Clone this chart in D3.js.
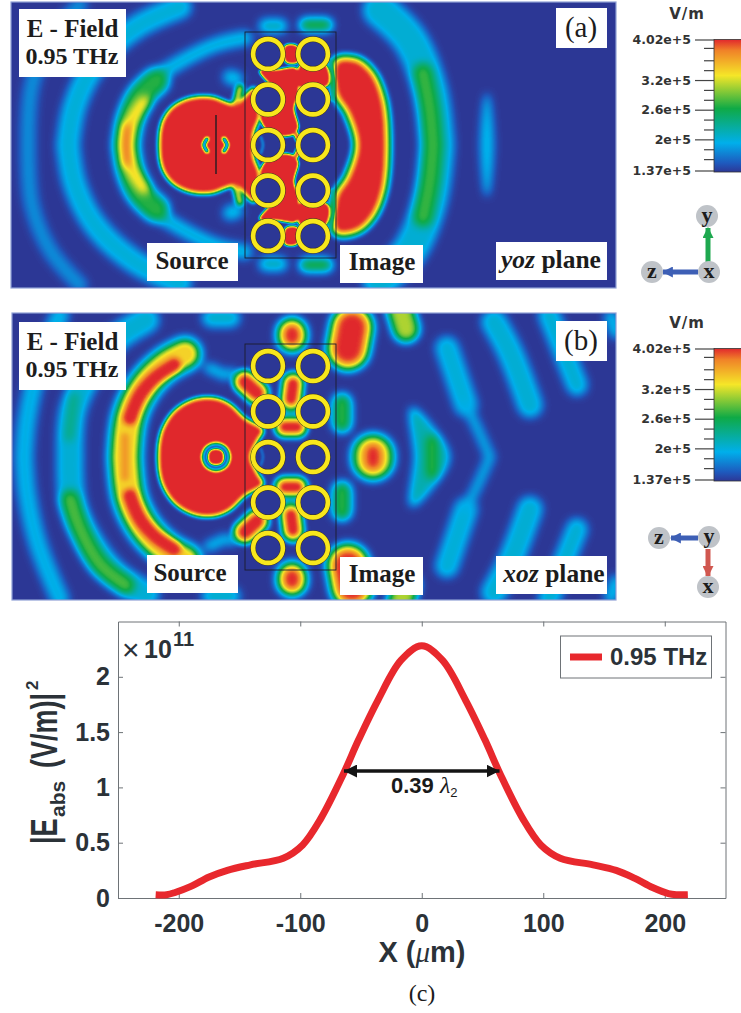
<!DOCTYPE html>
<html>
<head>
<meta charset="utf-8">
<title>E-field 0.95 THz</title>
<script src="https://d3js.org/d3.v7.min.js"></script>
<style>
body { margin: 0; background: #fff; }
svg { display: block; }
.serif { font-family: 'Liberation Serif', serif; }
.sans { font-family: 'Liberation Sans', sans-serif; }
</style>
</head>
<body>
<svg id="fig" width="741" height="1013"></svg>
<script>
// colour bar
var cbTop = 4.02e5, cbBottom = 1.37e5;
var cbStops = [1.37e5, 1.55e5, 1.95e5, 2.64e5, 3.3e5, 3.8e5, 4.02e5];
var cbColors = ["#2d3796", "#1e5abe", "#00afeb", "#0faa46", "#f5e628", "#f08228", "#e1282d"];
var cbMajor = [4.02e5, 3.2e5, 2.6e5, 2e5, 1.37e5];
var cbMajorLabels = ["4.02e+5", "3.2e+5", "2.6e+5", "2e+5", "1.37e+5"];
var cbMinor = [3.85e5, 3.6e5, 3.4e5, 3e5, 2.8e5, 2.4e5, 2.2e5, 1.8e5, 1.6e5];

// rods, relative to source
var rodCols = [52, 97];
var rodRows = [-91, -45.5, 0, 45.5, 91];

// field lobes panel (a): val in V/m, w width, m = also mirrored about the axis
var imageOutlineA = [[121,-83],[140,-84],[155,-72],[166,-46],[170,0],[166,46],[155,72],[140,85],[121,86],[121,52],[133,32],[142,0],[133,-32],[121,-52]];
var fieldAWide = [
  {val: 1.8e5, w: 15, m: 1, pts: [[-136,-140],[-166,-105],[-184,-60],[-188,0]]},
  {val: 2.02e5, w: 23, m: 1, pts: [[-36,-138],[-81,-117],[-121,-80],[-141,-40],[-148,0]]},
  {val: 2.05e5, w: 14, m: 1, pts: [[29,-107],[-1,-100],[-36,-83],[-66,-63],[-86,-40]]},
  {val: 2.7e5, w: 26, m: 1, pts: [[-60,-64],[-76,-48],[-86,-25],[-90,0]]},
  {val: 3.4e5, w: 14, m: 1, pts: [[-72,-42],[-85,-22],[-90,0]]},
  {val: 4.1e5, w: 8, m: 0, pts: [[-90,-18],[-90,18]]},
  {val: 2.05e5, w: 34, m: 1, pts: [[164,-135],[194,-105],[214,-55],[221,0]]},
  {val: 2.75e5, w: 20, m: 1, pts: [[207,-72],[214,-35],[217,0]]},
  {val: 2.05e5, w: 3, closed: 1, pts: [[271,-50],[276,0],[271,50],[266,0]]},
  {val: 2.15e5, w: 14, m: 1, pts: [[50,-119],[64,-119]]},
  {val: 2.7e5, w: 13, m: 1, pts: [[90,-120],[110,-120]]},
  {val: 2.05e5, w: 14, m: 1, pts: [[14,-68],[20,-66]]}
];
var fieldAMid = [
  {val: 2.75e5, w: 12, closed: 1, pts: imageOutlineA},
  {val: 5e5, w: 1, closed: 1, pts: imageOutlineA},
  {val: 3.4e5, w: 7, m: 1, pts: [[20,-40],[24,-57]]}
];
var fieldASharp = [
  {val: 5e5, w: 1, closed: 1, pts: [[-57,0],[-54,-23],[-44,-38],[-26,-47],[-4,-48],[10,-43],[18,-41],[26,-46],[31,-52],[38,-57],[44,-30],[38,-12],[38,0],[38,12],[44,30],[38,57],[31,52],[26,46],[18,41],[10,43],[-4,48],[-26,47],[-44,38],[-54,23]]}
];
var fieldAFine = [
  {val: 2.3e5, w: 3, m: 1, pts: [[114,-85],[118,-62],[116,-45]]},
  {val: 5e5, w: 1, m: 1, closed: 1, pts: [[69,-99],[81,-99],[82,-83],[70,-83]]},
  {val: 5e5, w: 1, m: 1, closed: 1, pts: [[84,-80],[109,-81],[112,-60],[84,-58]]},
  {val: 5e5, w: 1, m: 1, closed: 1, pts: [[44,-74],[60,-75],[81,-76],[82,-50],[78,-37],[82,-17],[76,-10],[54,-12],[44,-30],[60,-50]]},
  {val: 3.9e5, w: 5, m: 1, pts: [[80,-11],[84,-2]]}
];
var fieldATop = [
  {val: 1.37e5, w: 3, m: 0, pts: [[-9,-6],[-12,0],[-9,6]]},
  {val: 1.37e5, w: 3, m: 0, pts: [[8,-6],[11,0],[8,6]]},
  {val: 1.9e5, w: 2, m: 0, pts: [[45,-8],[47,0],[45,8]]}
];

// field lobes panel (b)
var fieldBWide = [
  {val: 1.98e5, w: 18, m: 1, pts: [[-156,-142],[-178,-87],[-189,-37],[-192,0]]},
  {val: 2.05e5, w: 26, m: 1, pts: [[-70,-137],[-101,-117],[-126,-85],[-143,-47],[-146,0]]},
  {val: 2.4e5, w: 10, m: 0, pts: [[-142,-60],[-147,-20]]},
  {val: 2.8e5, w: 20, m: 0, pts: [[-146,43],[-136,73],[-116,108],[-91,128]]},
  {val: 2.7e5, w: 34, m: 1, pts: [[-31,-103],[-51,-92],[-71,-72],[-86,-42],[-91,0]]},
  {val: 2.05e5, w: 10, m: 1, pts: [[-7,-89],[9,-82]]},
  {val: 2.05e5, w: 9, m: 1, pts: [[16,-84],[24,-78]]},
  {val: 2.05e5, w: 25, m: 1, pts: [[278,-135],[294,-105],[314,-52]]},
  {val: 2.05e5, w: 21, m: 1, pts: [[333,-142],[361,-72]]},
  {val: 2.0e5, w: 13, m: 1, pts: [[395,-140],[400,-125]]},
  {val: 2.08e5, w: 18, m: 1, pts: [[-5,-139],[15,-139]]},
  {val: 2.02e5, w: 23, m: 1, pts: [[231,-109],[250,-52]]},
  {val: 1.95e5, w: 10, m: 1, pts: [[250,-52],[263,-25],[274,0]]},
  {val: 3.1e5, w: 26, m: 1, pts: [[184,-148],[190,-128]]},
  {val: 2.9e5, w: 44, m: 1, pts: [[136,-130],[132,-108]]},
  {val: 5e5, w: 34, m: 1, pts: [[136,-130],[132,-108]]},
  {val: 2.8e5, w: 31, m: 1, pts: [[76,-124],[76,-120]]},
  {val: 5e5, w: 22, m: 1, pts: [[76,-124],[76,-120]]},
  {val: 2.6e5, w: 44, m: 0, pts: [[157,-2],[157,2]]},
  {val: 3.4e5, w: 32, m: 0, pts: [[157,-3],[157,3]]},
  {val: 4.6e5, w: 18, m: 0, pts: [[157,-5],[157,5]]},
  {val: 2.7e5, w: 19, m: 1, pts: [[126,-54],[126,-34]]},
  {val: 2.2e5, w: 3, closed: 1, pts: [[196,-48],[215,-30],[232,0],[215,30],[196,48],[200,0]]},
  {val: 2.75e5, w: 12, m: 0, pts: [[216,-16],[216,16]]}
];
var fieldBMid = [
  {val: 2.7e5, w: 24, m: 1, pts: [[77,-74],[75,-56]]},
  {val: 2.7e5, w: 23, m: 1, pts: [[69,-30],[81,-30]]},
  {val: 2.7e5, w: 26, m: 1, pts: [[29,-75],[41,-64]]},
  {val: 3.4e5, w: 22, m: 1, pts: [[-31,-103],[-51,-92],[-71,-72],[-86,-42],[-91,0]]},
  {val: 3.7e5, w: 8, m: 0, pts: [[-91,-20],[-91,20]]},
  {val: 5e5, w: 16, m: 1, pts: [[-42,-92],[-61,-79],[-76,-62],[-86,-39]]},
  {val: 5e5, w: 15, m: 1, pts: [[77,-73],[75,-58]]},
  {val: 5e5, w: 14, m: 1, pts: [[69,-30],[81,-30]]},
  {val: 5e5, w: 17, m: 1, pts: [[29,-75],[41,-64]]}
];
var fieldBSharp = [
  {val: 5e5, w: 1, closed: 1, pts: [[-58,0],[-54,-27],[-41,-47],[-21,-58],[-1,-59],[14,-53],[29,-39],[47,-27],[41,-15],[35,0],[41,15],[47,27],[29,39],[14,53],[-1,59],[-21,58],[-41,47],[-54,27]]}
];
var fieldBFine = [];
var fieldBTop = [
  {val: 2.2e5, w: 1, closed: 1, pts: [[0,-14],[10,-10],[14,0],[10,10],[0,14],[-10,10],[-14,0],[-10,-10]]},
  {val: 1.37e5, w: 1, closed: 1, pts: [[0,-11],[8,-8],[11,0],[8,8],[0,11],[-8,8],[-11,0],[-8,-8]]},
  {val: 5e5, w: 1, closed: 1, pts: [[0,-8],[6,-6],[8,0],[6,6],[0,8],[-6,6],[-8,0],[-6,-6]]},
  {val: 1.75e5, w: 2, m: 0, pts: [[45,-8],[47,0],[45,8]]}
];

// line plot (c)
var curveX = [-219,-210,-203,-190,-175,-160,-141,-114,-98,-83,-65,-52,-36,-17,0,17,36,52,65,83,98,114,141,160,175,190,203,210,219];
var curveY = [0.03,0.03,0.05,0.105,0.19,0.25,0.30,0.36,0.48,0.72,1.11,1.43,1.79,2.15,2.28,2.15,1.79,1.43,1.11,0.72,0.48,0.36,0.30,0.25,0.18,0.095,0.04,0.03,0.03];
var xTicks = [-200,-100,0,100,200];
var yTicks = [0,0.5,1,1.5,2];
var xTickLabels = ["-200","-100","0","100","200"];
var yTickLabels = ["0","0.5","1","1.5","2"];
var fwhmX = [-64, 64];
var fwhmY = 1.148;

var svg = d3.select("#fig");
var defs = svg.append("defs");

// value to grey and grey to colour
var grey = d3.scaleLinear().domain([cbBottom, cbTop]).range([0, 255]).clamp(true);
var jet = d3.scaleLinear().domain(cbStops).range(cbColors).interpolate(d3.interpolateRgb);

function addBlur(id, s){
  defs.append("filter").attr("id", id)
    .attr("filterUnits", "userSpaceOnUse").attr("x", -20).attr("y", -20).attr("width", 800).attr("height", 700)
    .attr("color-interpolation-filters", "sRGB")
    .append("feGaussianBlur").attr("stdDeviation", s);
}
addBlur("b4", 4);
addBlur("b3", 2.8);
addBlur("b2", 1.9);
addBlur("b15", 1.2);
addBlur("b1", 0.8);

var table = d3.range(0, 65).map(function(i){
  return d3.rgb(jet(cbBottom + (cbTop - cbBottom) * i / 64));
});
var jf = defs.append("filter").attr("id", "jet")
  .attr("filterUnits", "userSpaceOnUse").attr("x", -20).attr("y", -20).attr("width", 800).attr("height", 700)
  .attr("color-interpolation-filters", "sRGB")
  .append("feComponentTransfer");
[["feFuncR","r"],["feFuncG","g"],["feFuncB","b"]].forEach(function(k){
  jf.append(k[0]).attr("type", "table")
    .attr("tableValues", table.map(function(c){ return (c[k[1]]/255).toFixed(3); }).join(" "));
});

function drawLobes(g, lobes, xs, ys){
  var open = d3.line().x(function(d){return xs(d[0]);}).y(function(d){return ys(d[1]);}).curve(d3.curveCatmullRom);
  var shut = d3.line().x(function(d){return xs(d[0]);}).y(function(d){return ys(d[1]);}).curve(d3.curveCatmullRomClosed);
  lobes.forEach(function(l){
    var g1 = Math.round(grey(l.val));
    var col = "rgb(" + g1 + "," + g1 + "," + g1 + ")";
    var sets = [l.pts];
    if (l.m) sets.push(l.pts.map(function(p){ return [p[0], -p[1]]; }));
    sets.forEach(function(pts){
      g.append("path")
        .attr("d", (l.closed ? shut : open)(pts))
        .attr("fill", l.closed ? col : "none")
        .attr("stroke", col)
        .attr("stroke-width", l.w)
        .attr("stroke-linecap", "round")
        .attr("stroke-linejoin", "round");
    });
  });
}

function drawPanel(id, box, x0, wide, mid, sharp, fine, top){
  var xs = d3.scaleLinear().domain([box.x0 - x0, box.x1 - x0]).range([box.x0, box.x1]);
  var ys = d3.scaleLinear().domain([box.y0 - box.cy, box.y1 - box.cy]).range([box.y0, box.y1]);
  defs.append("clipPath").attr("id", "clip" + id).append("rect")
    .attr("x", box.x0).attr("y", box.y0).attr("width", box.x1 - box.x0).attr("height", box.y1 - box.y0);
  var outer = svg.append("g").attr("clip-path", "url(#clip" + id + ")");
  var g = outer.append("g").attr("filter", "url(#jet)");
  g.append("rect").attr("x", -20).attr("y", -20).attr("width", 800).attr("height", 700).attr("fill", "#000");
  drawLobes(g.append("g").attr("filter", "url(#b4)"), wide, xs, ys);
  drawLobes(g.append("g").attr("filter", "url(#b3)"), mid, xs, ys);
  drawLobes(g.append("g").attr("filter", "url(#b2)"), sharp, xs, ys);
  drawLobes(g.append("g").attr("filter", "url(#b15)"), fine, xs, ys);
  var gt = g.append("g").attr("filter", "url(#b1)");
  rodCols.forEach(function(c){
    rodRows.forEach(function(r){
      gt.append("circle").attr("cx", xs(c)).attr("cy", ys(r)).attr("r", 15).attr("fill", "#000");
    });
  });
  drawLobes(gt, top, xs, ys);

  // outline of the lattice and rods
  svg.append("rect").attr("x", box.x0).attr("y", box.y0).attr("width", box.x1 - box.x0).attr("height", box.y1 - box.y0)
    .attr("fill", "none").attr("stroke", "#8fa0d6").attr("stroke-width", 1.2);
  svg.append("rect").attr("x", xs(29)).attr("y", ys(-113)).attr("width", xs(120) - xs(29)).attr("height", ys(113) - ys(-113))
    .attr("fill", "none").attr("stroke", "#1c1c2c").attr("stroke-width", 0.9);
  rodCols.forEach(function(c){
    rodRows.forEach(function(r){
      svg.append("circle").attr("cx", xs(c)).attr("cy", ys(r)).attr("r", 14.9)
        .attr("fill", "none").attr("stroke", "#3a3320").attr("stroke-width", 5.6);
      svg.append("circle").attr("cx", xs(c)).attr("cy", ys(r)).attr("r", 14.9)
        .attr("fill", "none").attr("stroke", "#f8e71c").attr("stroke-width", 4.6);
    });
  });
  return {xs: xs, ys: ys};
}

var panelA = {x0: 11, x1: 616, y0: 2, y1: 288, cy: 145};
var panelB = {x0: 12, x1: 616, y0: 313, y1: 600, cy: 457};
var pa = drawPanel("a", panelA, 216, fieldAWide, fieldAMid, fieldASharp, fieldAFine, fieldATop);
var pb = drawPanel("b", panelB, 216, fieldBWide, fieldBMid, fieldBSharp, fieldBFine, fieldBTop);

// source bar in (a)
svg.append("line").attr("x1", pa.xs(0)).attr("x2", pa.xs(0)).attr("y1", pa.ys(-30)).attr("y2", pa.ys(29))
  .attr("stroke", "#5a1f25").attr("stroke-width", 2);

function whiteBox(x, y, w, h){
  svg.append("rect").attr("x", x).attr("y", y).attr("width", w).attr("height", h).attr("fill", "#fff");
}
function label(x, y, txt, size, weight, anchor){
  return svg.append("text").attr("class", "serif").attr("x", x).attr("y", y)
    .attr("font-size", size).attr("font-weight", weight || "bold").attr("fill", "#1c1c1c")
    .attr("text-anchor", anchor || "middle").text(txt);
}
function boxes(dy, dyS, dyI, dyP, letter, planeIt, xS, xP){
  whiteBox(19, 9 + dy, 107, 68);
  label(72.5, 37 + dy, "E - Field", 25);
  label(72, 64 + dy, "0.95 THz", 24);
  whiteBox(556, 8 + dy, 51, 40);
  label(581, 37 + dy, letter, 29, "normal");
  whiteBox(147, 243 + dyS, 91, 38);
  label(xS, 269 + dyS, "Source", 25);
  whiteBox(340, 245 + dyI, 83, 38);
  label(382, 270 + dyI, "Image", 25);
  whiteBox(496, 242 + dyP, 111, 38);
  var t = label(xP, 268 + dyP, "", 25.5);
  t.append("tspan").attr("font-style", "italic").text(planeIt);
  t.append("tspan").text(" plane");
}
boxes(0, 0, 0, 0, "(a)", "yoz", 192, 551);
boxes(313, 312, 312, 314, "(b)", "xoz", 190, 554);

// colour bars
var grad = defs.append("linearGradient").attr("id", "cbGrad").attr("x1", 0).attr("x2", 0).attr("y1", 1).attr("y2", 0);
cbStops.forEach(function(v, i){
  grad.append("stop").attr("offset", (v - cbBottom) / (cbTop - cbBottom)).attr("stop-color", cbColors[i]);
});
function colorBar(dy){
  var g = svg.append("g");
  var s = d3.scaleLinear().domain([cbBottom, cbTop]).range([170.5 + dy, 39.5 + dy]);
  g.append("rect").attr("x", 714).attr("y", s(cbTop)).attr("width", 30).attr("height", s(cbBottom) - s(cbTop) + 1.5)
    .attr("fill", "url(#cbGrad)").attr("stroke", "#333").attr("stroke-width", 0.8);
  var major = d3.axisLeft(s).tickValues(cbMajor).tickSize(19)
    .tickFormat(function(d, i){ return cbMajorLabels[i]; });
  var mg = g.append("g").attr("transform", "translate(714,0)").call(major);
  mg.select(".domain").remove();
  mg.selectAll("line").attr("stroke", "#444").attr("stroke-width", 1.2);
  mg.selectAll("text").attr("font-family", "'DejaVu Sans', sans-serif").attr("font-weight", "bold")
    .attr("font-size", 12.5).attr("fill", "#333").attr("x", -23);
  var minor = d3.axisLeft(s).tickValues(cbMinor).tickSize(10).tickFormat("");
  var ng = g.append("g").attr("transform", "translate(714,0)").call(minor);
  ng.select(".domain").remove();
  ng.selectAll("line").attr("stroke", "#444").attr("stroke-width", 1.2);
  g.append("text").attr("x", 687).attr("y", 19 + dy).attr("text-anchor", "middle")
    .attr("font-family", "'DejaVu Sans', sans-serif").attr("font-weight", "bold").attr("font-size", 15)
    .attr("letter-spacing", 1).attr("fill", "#333").text("V/m");
}
colorBar(0);
colorBar(309);

// axis triads
["#1ea84f", "#3d5fb5", "#d0574f"].forEach(function(c, i){
  var m = defs.append("marker").attr("id", "tri" + i).attr("viewBox", "0 0 10 10").attr("refX", 9).attr("refY", 5)
    .attr("markerWidth", 11).attr("markerHeight", 11).attr("markerUnits", "userSpaceOnUse").attr("orient", "auto");
  m.append("path").attr("d", "M0,0L10,5L0,10Z").attr("fill", c);
});
function triad(arrows, balls){
  arrows.forEach(function(a){
    svg.append("line").attr("x1", a[0]).attr("y1", a[1]).attr("x2", a[2]).attr("y2", a[3])
      .attr("stroke", ["#1ea84f", "#3d5fb5", "#d0574f"][a[4]]).attr("stroke-width", 5)
      .attr("marker-end", "url(#tri" + a[4] + ")");
  });
  balls.forEach(function(b){
    svg.append("circle").attr("cx", b[0]).attr("cy", b[1]).attr("r", 11).attr("fill", "#bfc3c8");
    label(b[0], b[1] + 6, b[2], 22);
  });
}
triad([[708, 262, 708, 228, 0], [698, 272, 663, 272, 1]], [[707, 216, "y"], [652, 272, "z"], [709, 272, "x"]]);
triad([[698, 538, 671, 538, 1], [708, 549, 708, 576, 2]], [[659, 538, "z"], [709, 537, "y"], [708, 587, "x"]]);

// plot (c)
var x = d3.scaleLinear().domain([-250, 250]).range([118, 725.5]);
var y = d3.scaleLinear().domain([0, 2.5]).range([898, 621.5]);
var inkAxis = "#6e7377", inkText = "#2b3238";

function styleAxis(g){
  g.selectAll(".domain").attr("stroke", inkAxis).attr("stroke-width", 1);
  g.selectAll("line").attr("stroke", inkAxis).attr("stroke-width", 1);
  g.selectAll("text").attr("class", "sans").attr("font-weight", "bold").attr("font-size", 25).attr("fill", inkText);
}
var gx = svg.append("g").attr("transform", "translate(0,898)")
  .call(d3.axisBottom(x).tickValues(xTicks).tickSizeInner(-5).tickSizeOuter(0).tickPadding(16)
    .tickFormat(function(d, i){ return xTickLabels[i]; }));
styleAxis(gx);
var gy = svg.append("g").attr("transform", "translate(118,0)")
  .call(d3.axisLeft(y).tickValues(yTicks).tickSizeInner(-5).tickSizeOuter(0).tickPadding(8)
    .tickFormat(function(d, i){ return yTickLabels[i]; }));
styleAxis(gy);
var gt2 = svg.append("g").attr("transform", "translate(0,621.5)")
  .call(d3.axisTop(x).tickValues(xTicks).tickSizeInner(-5).tickSizeOuter(0).tickFormat(""));
styleAxis(gt2);
var gr = svg.append("g").attr("transform", "translate(725.5,0)")
  .call(d3.axisRight(y).tickValues(yTicks).tickSizeInner(-5).tickSizeOuter(0).tickFormat(""));
styleAxis(gr);

var curve = d3.line().x(function(d, i){ return x(curveX[i]); }).y(function(d){ return y(d); }).curve(d3.curveCatmullRom);
svg.append("path").attr("d", curve(curveY)).attr("fill", "none").attr("stroke", "#e8282d").attr("stroke-width", 7);

// width arrow
var mk = defs.append("marker").attr("id", "head").attr("viewBox", "0 0 10 10").attr("refX", 10).attr("refY", 5)
  .attr("markerWidth", 13).attr("markerHeight", 13).attr("markerUnits", "userSpaceOnUse").attr("orient", "auto-start-reverse");
mk.append("path").attr("d", "M0,0L10,5L0,10Z").attr("fill", "#141414");
svg.append("line").attr("x1", x(fwhmX[0])).attr("x2", x(fwhmX[1])).attr("y1", y(fwhmY)).attr("y2", y(fwhmY))
  .attr("stroke", "#141414").attr("stroke-width", 3.5)
  .attr("marker-start", "url(#head)").attr("marker-end", "url(#head)");
var wl = svg.append("text").attr("class", "sans").attr("x", 391).attr("y", 793)
  .attr("font-weight", "bold").attr("font-size", 22).attr("fill", "#1a1a1a").text("0.39 ");
wl.append("tspan").attr("class", "serif").attr("font-style", "italic").attr("font-weight", "normal").attr("font-size", 24).text("λ");
wl.append("tspan").attr("font-size", 13).attr("font-weight", "normal").attr("dy", 4).text("2");

// exponent
svg.append("text").attr("class", "sans").attr("x", 122).attr("y", 660).attr("fill", inkText).attr("font-size", 30).text("×");
svg.append("text").attr("class", "sans").attr("x", 144).attr("y", 658).attr("fill", inkText).attr("font-size", 25).attr("font-weight", "bold").text("10");
svg.append("text").attr("class", "sans").attr("x", 173).attr("y", 646).attr("fill", inkText).attr("font-size", 20).attr("font-weight", "bold").text("11");

// legend
svg.append("rect").attr("x", 560.5).attr("y", 636).attr("width", 151).attr("height", 42)
  .attr("fill", "#fff").attr("stroke", inkAxis).attr("stroke-width", 1);
svg.append("line").attr("x1", 570).attr("x2", 602).attr("y1", 657).attr("y2", 657).attr("stroke", "#e8282d").attr("stroke-width", 7);
svg.append("text").attr("class", "sans").attr("x", 610).attr("y", 665).attr("font-weight", "bold")
  .attr("font-size", 24).attr("fill", inkText).text("0.95 THz");

// axis titles
var xl = svg.append("text").attr("class", "sans").attr("x", 422).attr("y", 962).attr("text-anchor", "middle")
  .attr("font-weight", "bold").attr("font-size", 29).attr("fill", inkText).text("X (");
xl.append("tspan").attr("class", "serif").attr("font-style", "italic").attr("font-weight", "normal").text("μ");
xl.append("tspan").text("m)");

function yPart(xp, yp, txt, size, stretch){
  svg.append("text").attr("class", "sans")
    .attr("transform", "translate(" + xp + "," + yp + ") rotate(-90) scale(1," + stretch + ")")
    .attr("font-weight", "bold").attr("font-size", size).attr("fill", inkText).text(txt);
}
yPart(57, 844, "|E", 27, 1.35);
yPart(65, 817, "abs", 21, 1);
yPart(57, 768, "(V/m)|", 27, 1.35);
yPart(38, 690, "2", 17, 1);

label(422, 1001, "(c)", 24, "normal");
</script>
</body>
</html>
